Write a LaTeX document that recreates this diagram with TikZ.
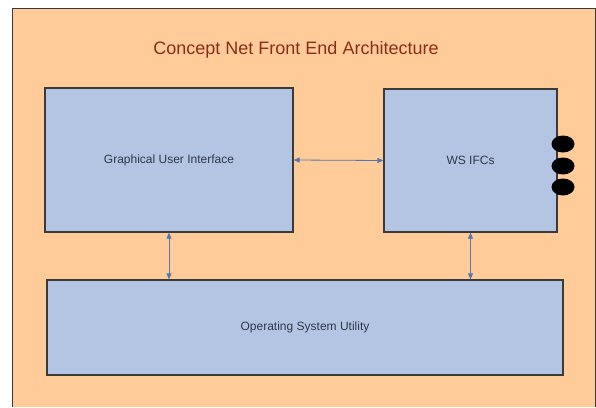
\documentclass[tikz,border=0pt]{standalone}
\usepackage{fontspec}
\setmainfont{Liberation Sans}
\usetikzlibrary{arrows.meta,shapes.geometric}
\definecolor{peach}{HTML}{FFCC99}
\definecolor{boxblue}{HTML}{B4C5E4}
\definecolor{boxline}{HTML}{3A3A3A}
\definecolor{titlered}{HTML}{8A2E17}
\definecolor{boxtext}{HTML}{2E3848}
\definecolor{arrowblue}{HTML}{5378B0}
\tikzset{
  block/.style={draw=boxline, line width=1.3pt, fill=boxblue, inner sep=0pt,
    font=\fontsize{12}{14}\selectfont, text=boxtext},
  arr/.style={draw=arrowblue, line width=0.8pt, {Triangle[length=6pt,width=5pt]}-{Triangle[length=6pt,width=5pt]}},
  blob/.style={ellipse, fill=black, minimum width=23pt, minimum height=17pt, inner sep=0pt},
}
\begin{document}
\begin{tikzpicture}[x=1pt,y=-1pt]
\useasboundingbox (0,0) rectangle (596,407);
\fill[white] (0,0) rectangle (596,407);
\fill[peach] (12,8) rectangle (595,407);
\draw[boxline, line width=0.8pt] (12,407) -- (12,8) -- (595,8) -- (595,407);
\node[text=titlered, font=\fontsize{18}{21}\selectfont] (title) at (296,50) {Concept Net Front End Architecture};
\node[block, minimum width=248pt, minimum height=144pt] (gui) at (169,160) {Graphical User Interface};
\node[block, minimum width=173pt, minimum height=143pt] (ws) at (470.5,160.5) {WS IFCs};
\node[block, minimum width=516pt, minimum height=95pt] (os) at (305,327.5) {Operating System Utility};
\node[blob] (b1) at (563,144) {};
\node[blob] (b2) at (563,166) {};
\node[blob] (b3) at (563,187) {};
\draw[arr] (gui.east) -- (ws.west);
\draw[arr] (gui.south) -- (gui.south |- os.north);
\draw[arr] (ws.south) -- (ws.south |- os.north);
\end{tikzpicture}
\end{document}
